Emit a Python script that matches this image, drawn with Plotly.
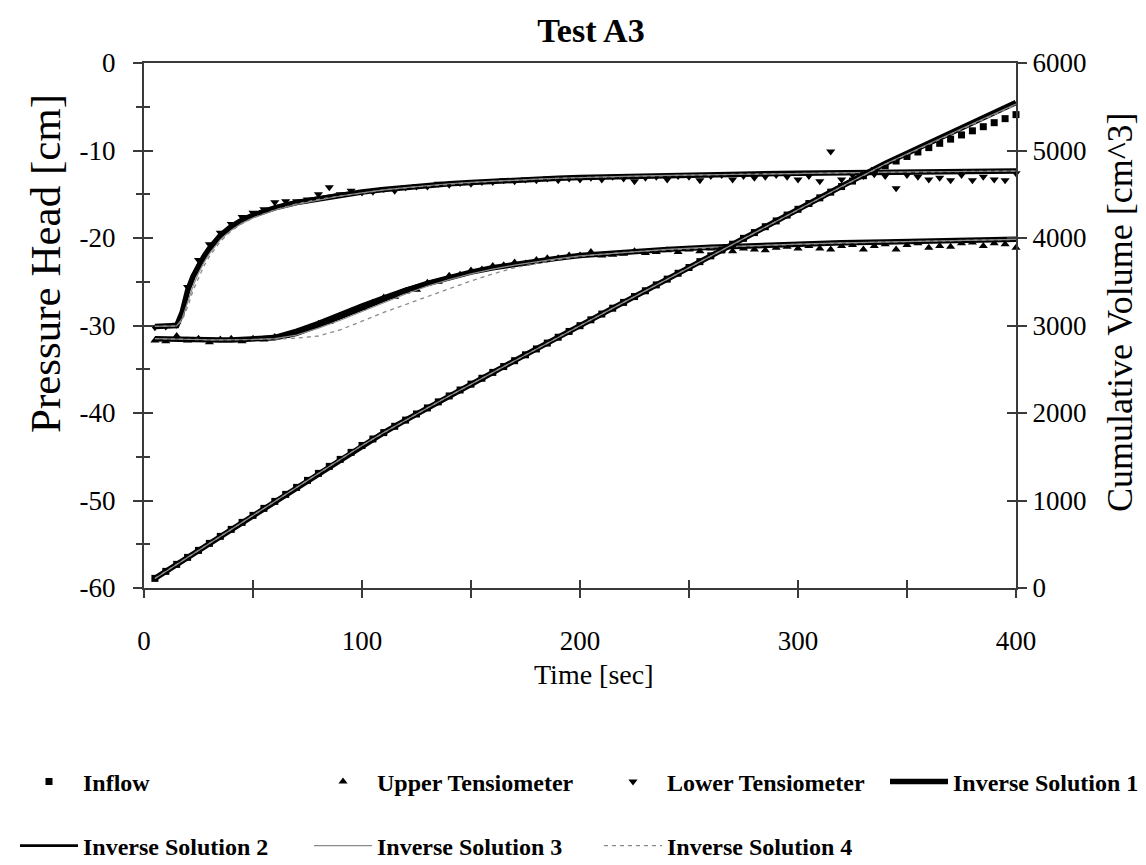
import plotly.graph_objects as go

FONT = "Liberation Serif, Times New Roman, Times, serif"
W, H = 1146, 865

# ---------------- measured data (every 5 s) ----------------
t_data = [5, 10, 15, 20, 25, 30, 35, 40, 45, 50, 55, 60, 65, 70, 75, 80, 85, 90, 95, 100,
          105, 110, 115, 120, 125, 130, 135, 140, 145, 150, 155, 160, 165, 170, 175, 180, 185, 190, 195, 200,
          205, 210, 215, 220, 225, 230, 235, 240, 245, 250, 255, 260, 265, 270, 275, 280, 285, 290, 295, 300,
          305, 310, 315, 320, 325, 330, 335, 340, 345, 350, 355, 360, 365, 370, 375, 380, 385, 390, 395, 400]

inflow = [110, 190, 270, 350, 430, 510, 590, 670, 750, 830, 910, 990, 1070, 1150, 1230, 1310, 1390, 1470, 1550, 1629,
          1703, 1776, 1848, 1919, 1989, 2058, 2127, 2195, 2263, 2330, 2397, 2464, 2531, 2598, 2665, 2732, 2799, 2866, 2932, 2998,
          3065, 3131, 3198, 3264, 3331, 3397, 3464, 3530, 3597, 3663, 3730, 3796, 3863, 3929, 3996, 4062, 4129, 4195, 4262, 4328,
          4394, 4459, 4524, 4588, 4651, 4712, 4770, 4826, 4880, 4932, 4983, 5033, 5082, 5130, 5178, 5225, 5272, 5318, 5364, 5410]

upper_tens = [-31.7, -31.8, -31.2, -31.7, -31.5, -31.9, -31.6, -31.5, -31.8, -31.5, -31.6, -31.3, -31.2, -30.8, -30.4, -29.8, -29.6, -28.9, -28.4, -28.0,
              -27.4, -26.8, -26.7, -26.1, -25.9, -25.1, -25.0, -24.3, -24.2, -23.7, -23.6, -23.2, -23.1, -22.8, -22.9, -22.5, -22.3, -22.3, -22.0, -22.0,
              -21.6, -22.0, -21.9, -21.8, -21.5, -21.7, -21.6, -21.4, -21.6, -21.3, -21.5, -21.2, -21.4, -21.5, -21.2, -21.3, -21.4, -21.1, -21.0, -21.2,
              -20.9, -21.2, -21.3, -20.9, -20.8, -21.3, -20.9, -20.7, -21.3, -20.8, -20.6, -21.1, -20.9, -21.0, -20.6, -20.5, -20.9, -20.6, -20.7, -21.1]

lower_tens = [-30.2, -30.1, -29.9, -25.6, -22.5, -20.7, -19.4, -18.4, -17.6, -17.1, -16.7, -15.9, -15.8, -15.8, -15.6, -15.0, -14.2, -15.0, -14.6, -14.8,
              -14.7, -14.4, -14.6, -14.2, -14.1, -14.1, -13.8, -13.9, -13.7, -13.8, -13.6, -13.6, -13.4, -13.5, -13.3, -13.4, -13.2, -13.4, -13.2, -13.3,
              -13.1, -13.3, -13.0, -13.2, -13.5, -13.1, -13.0, -13.3, -12.9, -13.0, -13.4, -12.9, -12.8, -13.3, -12.9, -13.1, -13.0, -12.8, -13.0, -13.3,
              -12.9, -13.5, -10.1, -13.3, -12.8, -12.9, -12.7, -12.9, -14.3, -12.8, -13.0, -13.3, -13.1, -13.4, -12.8, -13.4, -13.0, -13.3, -13.4, -12.6]

# ---------------- inverse solutions ----------------
t_model = [5, 10, 15, 17.5, 20, 22.5, 25, 27.5, 30, 35,
           40, 45, 50, 60, 70, 80, 90, 100, 110, 120,
           130, 140, 150, 160, 170, 180, 190, 200, 220, 240,
           260, 280, 300, 320, 340, 360, 380, 400]

is1_upper = [-31.5, -31.55, -31.6, -31.6, -31.6, -31.6, -31.6, -31.65, -31.65, -31.65,
             -31.65, -31.6, -31.6, -31.4, -30.9, -30.0, -29.0, -28.0, -27.0, -26.0,
             -25.2, -24.5, -23.9, -23.4, -23.0, -22.6, -22.3, -22.0, -21.6, -21.3,
             -21.05, -20.85, -20.7, -20.55, -20.45, -20.35, -20.25, -20.15]
is2_upper = [-31.5, -31.55, -31.6, -31.6, -31.6, -31.6, -31.6, -31.6, -31.6, -31.6,
             -31.6, -31.55, -31.5, -31.2, -30.5, -29.6, -28.6, -27.6, -26.7, -25.8,
             -25.1, -24.45, -23.9, -23.4, -23.0, -22.6, -22.3, -22.0, -21.6, -21.3,
             -21.05, -20.85, -20.7, -20.55, -20.45, -20.35, -20.25, -20.15]
is3_upper = [-31.5, -31.55, -31.6, -31.6, -31.6, -31.6, -31.6, -31.65, -31.65, -31.65,
             -31.65, -31.65, -31.6, -31.5, -31.1, -30.3, -29.4, -28.4, -27.4, -26.4,
             -25.5, -24.75, -24.1, -23.55, -23.1, -22.7, -22.35, -22.05, -21.65, -21.3,
             -21.05, -20.85, -20.7, -20.55, -20.45, -20.35, -20.25, -20.15]
is4_upper = [-31.5, -31.55, -31.6, -31.6, -31.6, -31.6, -31.6, -31.65, -31.65, -31.65,
             -31.65, -31.65, -31.6, -31.55, -31.45, -31.2, -30.5, -29.5, -28.5, -27.6,
             -26.7, -25.8, -24.9, -24.1, -23.4, -22.9, -22.45, -22.1, -21.65, -21.35,
             -21.1, -20.9, -20.72, -20.57, -20.46, -20.36, -20.26, -20.16]

is1_lower = [-30.1, -30.1, -30.0, -28.5, -26.0, -24.4, -23.1, -22.1, -21.2, -19.7,
             -18.7, -17.95, -17.4, -16.55, -15.95, -15.5, -15.1, -14.75, -14.45, -14.2,
             -14.0, -13.8, -13.65, -13.5, -13.38, -13.27, -13.17, -13.08, -12.95, -12.85,
             -12.76, -12.68, -12.6, -12.54, -12.48, -12.43, -12.38, -12.34]
is2_lower = [-30.1, -30.1, -29.95, -28.3, -25.8, -24.2, -22.95, -21.95, -21.1, -19.6,
             -18.6, -17.85, -17.3, -16.45, -15.85, -15.4, -15.0, -14.7, -14.4, -14.15,
             -13.95, -13.78, -13.63, -13.5, -13.38, -13.27, -13.17, -13.08, -12.95, -12.85,
             -12.76, -12.68, -12.6, -12.54, -12.48, -12.43, -12.38, -12.34]
is3_lower = [-30.1, -30.1, -30.05, -29.2, -27.4, -25.5, -24.0, -22.8, -21.8, -20.2,
             -19.1, -18.3, -17.7, -16.8, -16.15, -15.65, -15.2, -14.85, -14.5, -14.25,
             -14.02, -13.8, -13.65, -13.5, -13.38, -13.27, -13.17, -13.08, -12.95, -12.85,
             -12.76, -12.68, -12.6, -12.54, -12.48, -12.43, -12.38, -12.34]
is4_lower = [-30.1, -30.1, -30.05, -29.4, -27.9, -26.0, -24.5, -23.2, -22.1, -20.4,
             -19.2, -18.35, -17.7, -16.8, -16.1, -15.6, -15.2, -14.85, -14.52, -14.26,
             -14.04, -13.83, -13.67, -13.52, -13.39, -13.28, -13.18, -13.09, -12.96, -12.86,
             -12.77, -12.69, -12.61, -12.55, -12.49, -12.44, -12.39, -12.35]

is1_inflow = [110, 190, 270, 310, 350, 390, 430, 470, 510, 590,
              670, 750, 830, 990, 1150, 1310, 1470, 1629, 1776, 1919,
              2058, 2195, 2330, 2464, 2598, 2732, 2866, 2998, 3264, 3530,
              3796, 4062, 4328, 4592, 4852, 5090, 5325, 5550]
is2_inflow = [110, 190, 270, 310, 350, 390, 430, 470, 510, 590,
              670, 750, 830, 990, 1150, 1310, 1470, 1629, 1776, 1919,
              2058, 2195, 2330, 2464, 2598, 2732, 2866, 2998, 3264, 3530,
              3796, 4062, 4328, 4590, 4848, 5082, 5312, 5538]
is3_inflow = [110, 190, 270, 310, 350, 390, 430, 470, 510, 590,
              670, 750, 830, 990, 1150, 1310, 1470, 1629, 1776, 1919,
              2058, 2195, 2330, 2464, 2598, 2732, 2866, 2998, 3264, 3530,
              3796, 4062, 4328, 4588, 4845, 5078, 5305, 5530]
is4_inflow = [110, 190, 270, 310, 350, 390, 430, 470, 510, 590,
              670, 750, 830, 990, 1150, 1310, 1470, 1629, 1776, 1919,
              2058, 2195, 2330, 2464, 2598, 2732, 2866, 2998, 3264, 3530,
              3796, 4062, 4328, 4586, 4842, 5072, 5298, 5520]

y_tickvals = [0, -10, -20, -30, -40, -50, -60]
y_ticktext = ["0", "-10", "-20", "-30", "-40", "-50", "-60"]
y2_tickvals = [0, 1000, 2000, 3000, 4000, 5000, 6000]
x_tickvals = [0, 100, 200, 300, 400]

title_text = "Test A3"
x_title = "Time [sec]"
y_title = "Pressure Head [cm]"
y2_title = "Cumulative Volume [cm^3]"

# ---------------- figure ----------------
fig = go.Figure()

fig.add_trace(go.Scatter(x=t_data, y=inflow, yaxis="y2", mode="markers", name="Inflow",
                         marker=dict(symbol="square", size=7, color="black"), cliponaxis=False,
                         legend="legend"))
fig.add_trace(go.Scatter(x=t_data, y=upper_tens, mode="markers", name="Upper Tensiometer",
                         marker=dict(symbol="triangle-up", size=8, color="black"), cliponaxis=False,
                         legend="legend2"))
fig.add_trace(go.Scatter(x=t_data, y=lower_tens, mode="markers", name="Lower Tensiometer",
                         marker=dict(symbol="triangle-down", size=8, color="black"), cliponaxis=False,
                         legend="legend3"))

solutions = [
    ("Inverse Solution 1", is1_upper, is1_lower, is1_inflow, dict(color="black", width=5.5), "legend4"),
    ("Inverse Solution 2", is2_upper, is2_lower, is2_inflow, dict(color="black", width=2.8), "legend5"),
    ("Inverse Solution 3", is3_upper, is3_lower, is3_inflow, dict(color="#8a8a8a", width=1.2), "legend6"),
    ("Inverse Solution 4", is4_upper, is4_lower, is4_inflow, dict(color="#8a8a8a", width=1.3, dash="4px,4px"), "legend7"),
]
for name, up, lo, infl, line, leg in solutions:
    fig.add_trace(go.Scatter(x=t_model + [None] + t_model, y=up + [None] + lo, mode="lines",
                             name=name, line=line, legendgroup=name, legend=leg, connectgaps=False))
    fig.add_trace(go.Scatter(x=t_model, y=infl, yaxis="y2", mode="lines", name=name,
                             line=line, legendgroup=name, legend=leg, showlegend=False))

# empty traces that carry the inner half of the crossing tick marks
fig.add_trace(go.Scatter(x=[], y=[], xaxis="x3", yaxis="y3", showlegend=False, hoverinfo="skip"))
fig.add_trace(go.Scatter(x=[], y=[], xaxis="x3", yaxis="y4", showlegend=False, hoverinfo="skip"))

tickfont = dict(family=FONT, size=27, color="black")
AX = "#3a3a3a"

fig.update_layout(
    width=W, height=H, autosize=False,
    margin=dict(l=144, r=130, t=63, b=277, autoexpand=False),
    paper_bgcolor="white", plot_bgcolor="white",
    font=dict(family=FONT, color="black"),
    showlegend=True,
    hovermode=False,
    title=dict(text=title_text, x=591 / W, xref="container", xanchor="center",
               y=1 - 30 / H, yref="container", yanchor="middle",
               font=dict(family=FONT, size=34, color="black", weight="bold")),
    xaxis=dict(range=[0, 400], tickmode="array", tickvals=x_tickvals, ticks="outside", ticklen=8,
               tickwidth=1.5, tickcolor=AX, showline=True, linecolor=AX, linewidth=2, mirror=True,
               showgrid=False, zeroline=False, tickfont=tickfont, ticklabelstandoff=20,
               minor=dict(tickmode="linear", tick0=0, dtick=50, ticks="outside", ticklen=8,
                          tickwidth=1.5, tickcolor=AX, showgrid=False)),
    yaxis=dict(range=[-60, 0], tickmode="array", tickvals=y_tickvals, ticktext=y_ticktext,
               ticks="outside", ticklen=9, tickwidth=1.5, tickcolor=AX, showline=True, linecolor=AX,
               linewidth=2, showgrid=False, zeroline=False, tickfont=tickfont, ticklabelstandoff=12,
               minor=dict(tickmode="linear", tick0=0, dtick=5, ticks="outside", ticklen=6,
                          tickwidth=1.5, tickcolor=AX, showgrid=False)),
    yaxis2=dict(range=[0, 6000], overlaying="y", side="right", tickmode="array", tickvals=y2_tickvals,
                ticks="outside", ticklen=9, tickwidth=1.5, tickcolor=AX, showline=True, linecolor=AX,
                linewidth=2, showgrid=False, zeroline=False, tickfont=tickfont, ticklabelstandoff=0),
    xaxis3=dict(range=[0, 400], overlaying="x", anchor="y3", tickmode="linear", tick0=0, dtick=50,
                ticks="inside", ticklen=8, tickwidth=1.5, tickcolor=AX, showticklabels=False,
                showline=False, showgrid=False, zeroline=False),
    yaxis3=dict(range=[-60, 0], overlaying="y", anchor="x3", side="left", tickmode="array",
                tickvals=y_tickvals, ticks="inside", ticklen=9, tickwidth=1.5, tickcolor=AX,
                showticklabels=False, showline=False, showgrid=False, zeroline=False,
                minor=dict(tickmode="linear", tick0=0, dtick=5, ticks="inside", ticklen=6,
                           tickwidth=1.5, tickcolor=AX, showgrid=False)),
    yaxis4=dict(range=[0, 6000], overlaying="y", anchor="x3", side="right", tickmode="array",
                tickvals=y2_tickvals, ticks="inside", ticklen=9, tickwidth=1.5, tickcolor=AX,
                showticklabels=False, showline=False, showgrid=False, zeroline=False),
)

# axis titles
fig.add_annotation(text=x_title, xref="paper", yref="paper", x=(594 - 144) / 872, y=(588 - 674) / 525,
                   showarrow=False, xanchor="center", yanchor="middle",
                   font=dict(family=FONT, size=28, color="black"))
fig.add_annotation(text=y_title, xref="paper", yref="paper", x=(45 - 144) / 872, y=(588 - 264) / 525,
                   showarrow=False, xanchor="center", yanchor="middle", textangle=-90,
                   font=dict(family=FONT, size=43, color="black"))
fig.add_annotation(text=y2_title, xref="paper", yref="paper", x=(1120 - 144) / 872, y=(588 - 312) / 525,
                   showarrow=False, xanchor="center", yanchor="middle", textangle=-90,
                   font=dict(family=FONT, size=36, color="black"))

# legends: one entry per legend so every column sits where the reference has it
leg_font = dict(family=FONT, size=24, color="black", weight="bold")
ITEMW = 58
TEXTGAP = ITEMW + 10
legend_pos = {
    "legend": (83, 782), "legend2": (377, 782), "legend3": (667, 782), "legend4": (953, 782),
    "legend5": (83, 846), "legend6": (377, 846), "legend7": (667, 846),
}
leg_layout = {}
for key, (tx, ty) in legend_pos.items():
    leg_layout[key] = dict(x=(tx - TEXTGAP) / W, y=1 - ty / H, xref="container", yref="container",
                           xanchor="left", yanchor="middle", orientation="h", itemwidth=ITEMW,
                           font=leg_font, bgcolor="rgba(0,0,0,0)", borderwidth=0,
                           itemclick=False, itemdoubleclick=False)
fig.update_layout(**leg_layout)

fig.write_html("out.html")
